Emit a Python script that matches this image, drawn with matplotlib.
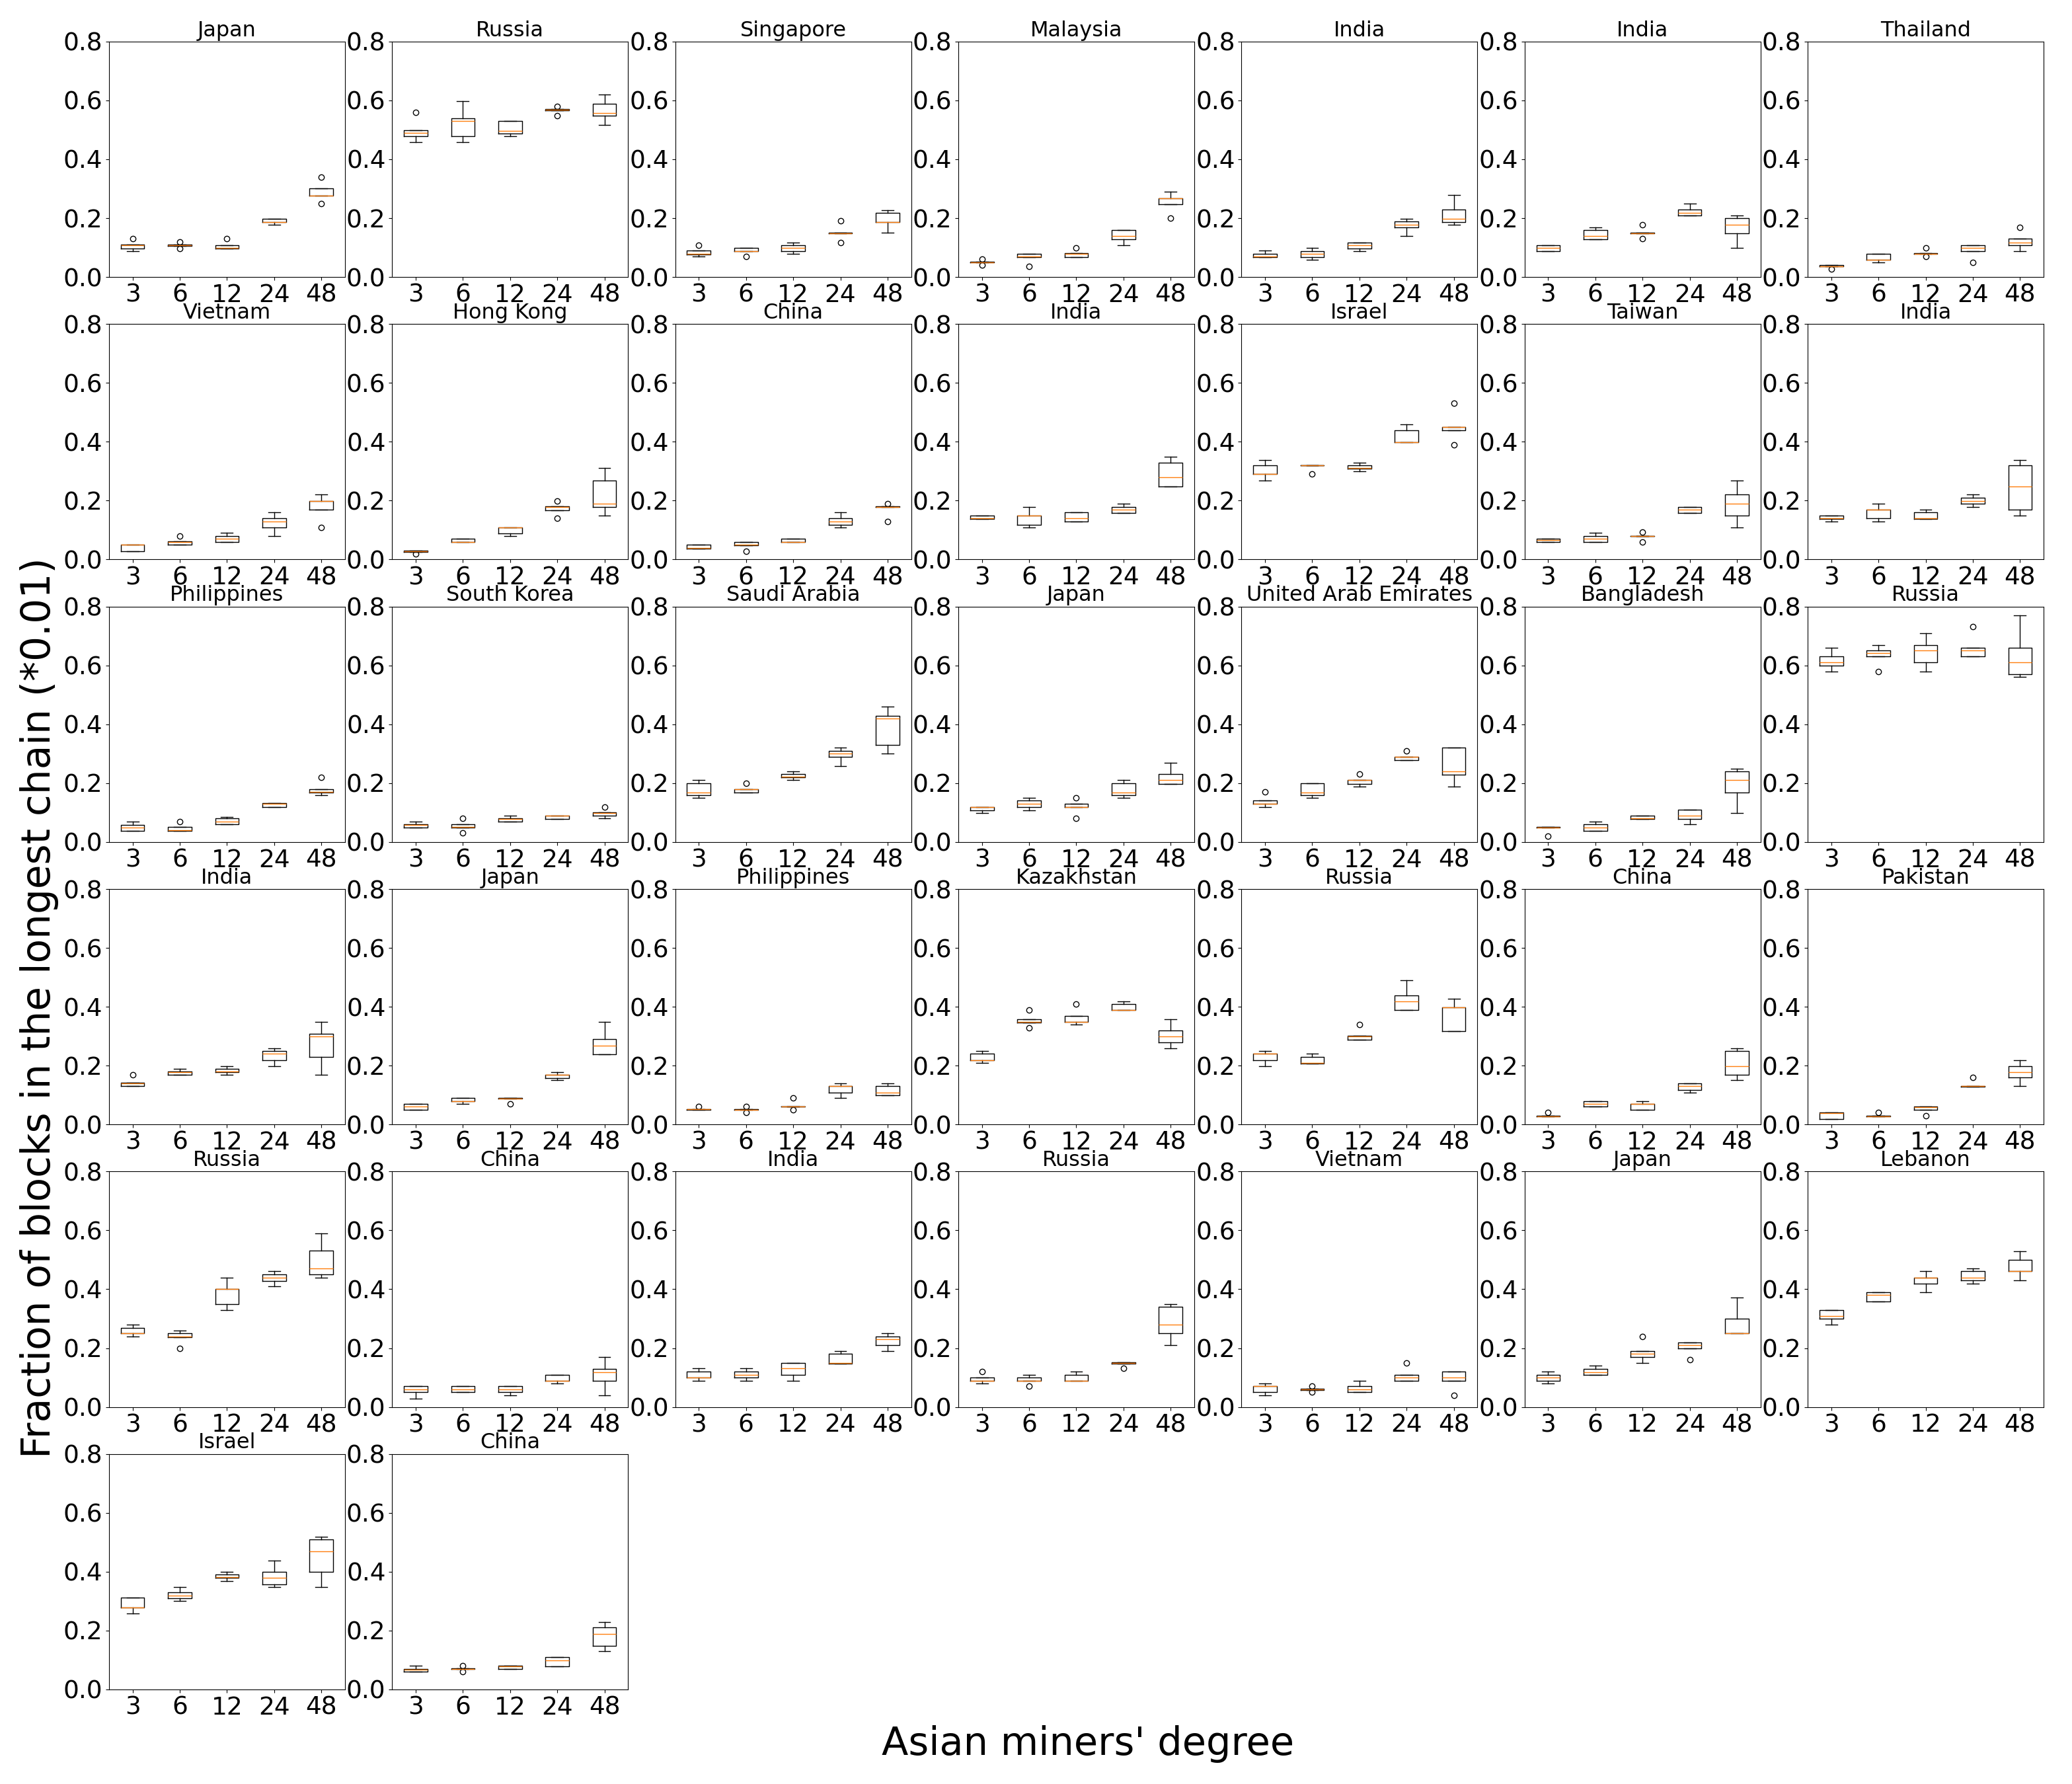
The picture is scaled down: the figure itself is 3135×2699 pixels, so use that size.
import numpy as np
import matplotlib
matplotlib.use("Agg")
import matplotlib.pyplot as plt

# degrees on the x axis
degrees = ['3', '6', '12', '24', '48']

titles = ['Japan', 'Russia', 'Singapore', 'Malaysia', 'India', 'India', 'Thailand',
          'Vietnam', 'Hong Kong', 'China', 'India', 'Israel', 'Taiwan', 'India',
          'Philippines', 'South Korea', 'Saudi Arabia', 'Japan', 'United Arab Emirates', 'Bangladesh', 'Russia',
          'India', 'Japan', 'Philippines', 'Kazakhstan', 'Russia', 'China', 'Pakistan',
          'Russia', 'China', 'India', 'Russia', 'Vietnam', 'Japan', 'Lebanon',
          'Israel', 'China']

# box statistics, one row per panel, one value per degree
whis_lo = [
    [0.088, 0.106, 0.097, 0.178, 0.277], [0.459, 0.459, 0.478, 0.566, 0.517],
    [0.069, 0.087, 0.079, 0.149, 0.150], [0.049, 0.067, 0.068, 0.109, 0.247],
    [0.068, 0.058, 0.088, 0.139, 0.178], [0.088, 0.128, 0.149, 0.208, 0.098],
    [0.036, 0.049, 0.078, 0.088, 0.088],
    [0.028, 0.050, 0.060, 0.080, 0.169], [0.026, 0.060, 0.080, 0.167, 0.150],
    [0.037, 0.049, 0.060, 0.109, 0.178], [0.139, 0.109, 0.129, 0.159, 0.249],
    [0.268, 0.319, 0.300, 0.399, 0.438], [0.060, 0.060, 0.079, 0.159, 0.109],
    [0.130, 0.130, 0.139, 0.178, 0.150],
    [0.037, 0.037, 0.060, 0.118, 0.159], [0.050, 0.049, 0.069, 0.079, 0.080],
    [0.150, 0.169, 0.210, 0.259, 0.300], [0.099, 0.108, 0.118, 0.150, 0.198],
    [0.119, 0.150, 0.189, 0.277, 0.189], [0.050, 0.037, 0.078, 0.060, 0.099],
    [0.580, 0.630, 0.580, 0.630, 0.560],
    [0.130, 0.169, 0.169, 0.199, 0.169], [0.049, 0.070, 0.089, 0.150, 0.238],
    [0.050, 0.050, 0.060, 0.090, 0.100], [0.210, 0.347, 0.339, 0.388, 0.259],
    [0.199, 0.208, 0.289, 0.388, 0.318], [0.027, 0.060, 0.049, 0.109, 0.150],
    [0.019, 0.028, 0.049, 0.129, 0.130],
    [0.240, 0.238, 0.330, 0.410, 0.440], [0.028, 0.050, 0.039, 0.080, 0.039],
    [0.090, 0.090, 0.090, 0.148, 0.190], [0.080, 0.088, 0.088, 0.148, 0.210],
    [0.039, 0.058, 0.050, 0.088, 0.088], [0.080, 0.109, 0.150, 0.199, 0.250],
    [0.279, 0.358, 0.390, 0.420, 0.430],
    [0.259, 0.300, 0.369, 0.349, 0.349], [0.060, 0.069, 0.070, 0.079, 0.130],
]
q1 = [
    [0.097, 0.106, 0.097, 0.186, 0.277], [0.478, 0.478, 0.488, 0.566, 0.548],
    [0.077, 0.087, 0.088, 0.149, 0.187], [0.049, 0.067, 0.068, 0.128, 0.247],
    [0.068, 0.068, 0.097, 0.169, 0.187], [0.088, 0.128, 0.149, 0.208, 0.148],
    [0.036, 0.058, 0.078, 0.088, 0.109],
    [0.028, 0.050, 0.060, 0.109, 0.169], [0.026, 0.060, 0.088, 0.167, 0.178],
    [0.037, 0.049, 0.060, 0.118, 0.178], [0.139, 0.118, 0.129, 0.159, 0.249],
    [0.290, 0.319, 0.309, 0.399, 0.438], [0.060, 0.060, 0.079, 0.159, 0.150],
    [0.139, 0.140, 0.139, 0.189, 0.169],
    [0.037, 0.037, 0.060, 0.118, 0.168], [0.050, 0.049, 0.069, 0.079, 0.089],
    [0.159, 0.169, 0.219, 0.289, 0.330], [0.108, 0.118, 0.118, 0.159, 0.198],
    [0.129, 0.159, 0.198, 0.277, 0.228], [0.050, 0.037, 0.078, 0.079, 0.169],
    [0.599, 0.630, 0.611, 0.630, 0.570],
    [0.130, 0.169, 0.178, 0.219, 0.229], [0.049, 0.079, 0.089, 0.158, 0.238],
    [0.050, 0.050, 0.060, 0.109, 0.100], [0.219, 0.347, 0.348, 0.388, 0.278],
    [0.219, 0.208, 0.289, 0.388, 0.318], [0.027, 0.060, 0.049, 0.118, 0.169],
    [0.019, 0.028, 0.049, 0.129, 0.160],
    [0.250, 0.238, 0.349, 0.429, 0.450], [0.050, 0.050, 0.050, 0.088, 0.088],
    [0.099, 0.099, 0.109, 0.148, 0.210], [0.088, 0.088, 0.088, 0.148, 0.250],
    [0.050, 0.058, 0.050, 0.088, 0.088], [0.088, 0.109, 0.169, 0.199, 0.250],
    [0.300, 0.358, 0.418, 0.430, 0.461],
    [0.278, 0.309, 0.379, 0.358, 0.400], [0.060, 0.069, 0.070, 0.079, 0.148],
]
med = [
    [0.108, 0.109, 0.099, 0.187, 0.277], [0.489, 0.530, 0.497, 0.568, 0.558],
    [0.079, 0.088, 0.098, 0.149, 0.187], [0.050, 0.070, 0.079, 0.140, 0.268],
    [0.070, 0.079, 0.109, 0.178, 0.197], [0.098, 0.139, 0.149, 0.219, 0.178],
    [0.037, 0.058, 0.078, 0.098, 0.118],
    [0.051, 0.060, 0.070, 0.130, 0.199], [0.028, 0.060, 0.109, 0.178, 0.189],
    [0.039, 0.051, 0.060, 0.130, 0.178], [0.140, 0.150, 0.140, 0.169, 0.279],
    [0.290, 0.319, 0.310, 0.399, 0.450], [0.067, 0.070, 0.079, 0.169, 0.189],
    [0.140, 0.169, 0.140, 0.199, 0.249],
    [0.050, 0.039, 0.070, 0.129, 0.170], [0.059, 0.052, 0.079, 0.089, 0.099],
    [0.169, 0.180, 0.221, 0.300, 0.419], [0.118, 0.129, 0.118, 0.169, 0.210],
    [0.130, 0.169, 0.210, 0.290, 0.239], [0.050, 0.050, 0.080, 0.089, 0.210],
    [0.611, 0.641, 0.650, 0.650, 0.611],
    [0.139, 0.178, 0.180, 0.240, 0.300], [0.060, 0.079, 0.089, 0.169, 0.268],
    [0.051, 0.050, 0.060, 0.130, 0.109], [0.219, 0.348, 0.348, 0.390, 0.300],
    [0.240, 0.210, 0.300, 0.418, 0.399], [0.028, 0.070, 0.070, 0.130, 0.199],
    [0.038, 0.028, 0.058, 0.130, 0.178],
    [0.250, 0.240, 0.400, 0.440, 0.470], [0.060, 0.060, 0.060, 0.090, 0.118],
    [0.099, 0.109, 0.131, 0.150, 0.230], [0.090, 0.090, 0.090, 0.150, 0.279],
    [0.071, 0.060, 0.060, 0.099, 0.099], [0.099, 0.118, 0.180, 0.210, 0.250],
    [0.310, 0.380, 0.439, 0.439, 0.461],
    [0.278, 0.319, 0.381, 0.380, 0.470], [0.068, 0.069, 0.079, 0.099, 0.188],
]
q3 = [
    [0.110, 0.111, 0.109, 0.198, 0.300], [0.499, 0.540, 0.530, 0.570, 0.588],
    [0.089, 0.099, 0.108, 0.151, 0.219], [0.051, 0.079, 0.081, 0.160, 0.268],
    [0.079, 0.088, 0.118, 0.188, 0.229], [0.109, 0.159, 0.151, 0.229, 0.199],
    [0.040, 0.079, 0.080, 0.109, 0.130],
    [0.051, 0.061, 0.080, 0.140, 0.199], [0.030, 0.070, 0.109, 0.180, 0.268],
    [0.051, 0.060, 0.070, 0.140, 0.180], [0.150, 0.150, 0.160, 0.178, 0.330],
    [0.319, 0.321, 0.320, 0.440, 0.450], [0.070, 0.080, 0.080, 0.178, 0.220],
    [0.150, 0.170, 0.160, 0.210, 0.320],
    [0.059, 0.052, 0.080, 0.131, 0.180], [0.061, 0.060, 0.080, 0.090, 0.100],
    [0.200, 0.180, 0.230, 0.310, 0.429], [0.119, 0.140, 0.129, 0.200, 0.230],
    [0.140, 0.200, 0.211, 0.290, 0.320], [0.051, 0.060, 0.089, 0.110, 0.239],
    [0.631, 0.650, 0.669, 0.660, 0.660],
    [0.141, 0.180, 0.188, 0.249, 0.309], [0.070, 0.090, 0.090, 0.169, 0.290],
    [0.051, 0.051, 0.061, 0.130, 0.130], [0.240, 0.358, 0.369, 0.409, 0.319],
    [0.240, 0.229, 0.302, 0.438, 0.399], [0.030, 0.079, 0.070, 0.139, 0.249],
    [0.040, 0.030, 0.060, 0.131, 0.199],
    [0.268, 0.250, 0.400, 0.450, 0.531], [0.070, 0.070, 0.070, 0.110, 0.130],
    [0.120, 0.120, 0.150, 0.180, 0.240], [0.099, 0.099, 0.109, 0.151, 0.340],
    [0.071, 0.062, 0.070, 0.109, 0.120], [0.109, 0.130, 0.190, 0.220, 0.300],
    [0.330, 0.390, 0.440, 0.461, 0.500],
    [0.311, 0.330, 0.390, 0.400, 0.509], [0.070, 0.071, 0.080, 0.109, 0.210],
]
whis_hi = [
    [0.110, 0.111, 0.109, 0.198, 0.300], [0.499, 0.597, 0.530, 0.570, 0.619],
    [0.089, 0.099, 0.118, 0.151, 0.228], [0.051, 0.079, 0.081, 0.160, 0.290],
    [0.090, 0.098, 0.118, 0.198, 0.278], [0.109, 0.169, 0.151, 0.249, 0.210],
    [0.040, 0.079, 0.080, 0.109, 0.130],
    [0.051, 0.061, 0.090, 0.160, 0.220], [0.030, 0.070, 0.109, 0.180, 0.310],
    [0.051, 0.060, 0.070, 0.160, 0.180], [0.150, 0.178, 0.160, 0.189, 0.349],
    [0.339, 0.321, 0.330, 0.460, 0.450], [0.070, 0.090, 0.080, 0.178, 0.268],
    [0.150, 0.189, 0.170, 0.220, 0.339],
    [0.070, 0.052, 0.084, 0.131, 0.180], [0.070, 0.060, 0.089, 0.090, 0.100],
    [0.211, 0.180, 0.240, 0.320, 0.460], [0.119, 0.150, 0.129, 0.210, 0.269],
    [0.140, 0.200, 0.211, 0.290, 0.320], [0.051, 0.070, 0.089, 0.110, 0.249],
    [0.660, 0.669, 0.710, 0.660, 0.771],
    [0.141, 0.188, 0.199, 0.259, 0.348], [0.070, 0.090, 0.090, 0.178, 0.348],
    [0.051, 0.051, 0.061, 0.139, 0.139], [0.249, 0.358, 0.369, 0.418, 0.358],
    [0.249, 0.240, 0.302, 0.489, 0.428], [0.030, 0.079, 0.079, 0.139, 0.259],
    [0.040, 0.030, 0.060, 0.131, 0.219],
    [0.279, 0.259, 0.440, 0.461, 0.590], [0.070, 0.070, 0.070, 0.110, 0.170],
    [0.131, 0.131, 0.150, 0.190, 0.250], [0.099, 0.109, 0.120, 0.151, 0.350],
    [0.080, 0.062, 0.090, 0.109, 0.120], [0.120, 0.140, 0.190, 0.220, 0.371],
    [0.330, 0.390, 0.461, 0.470, 0.530],
    [0.311, 0.349, 0.400, 0.439, 0.518], [0.080, 0.071, 0.080, 0.109, 0.230],
]
# outliers: (panel, degree index) -> values
fliers = {
    (0, 0): [0.13], (0, 1): [0.12, 0.096], (0, 2): [0.13], (0, 4): [0.339, 0.249],
    (1, 0): [0.559], (1, 3): [0.579, 0.549],
    (2, 0): [0.109], (2, 1): [0.069], (2, 3): [0.19, 0.118],
    (3, 0): [0.06, 0.04], (3, 1): [0.037], (3, 2): [0.10], (3, 4): [0.199],
    (5, 2): [0.178, 0.13],
    (6, 0): [0.028], (6, 2): [0.10, 0.07], (6, 3): [0.049], (6, 4): [0.169],
    (7, 1): [0.08], (7, 4): [0.109],
    (8, 0): [0.019], (8, 3): [0.199, 0.14],
    (9, 1): [0.028], (9, 4): [0.189, 0.13],
    (11, 1): [0.29], (11, 4): [0.531, 0.39],
    (12, 2): [0.094, 0.06],
    (14, 1): [0.07], (14, 4): [0.22],
    (15, 1): [0.08, 0.03], (15, 4): [0.119],
    (16, 1): [0.2],
    (17, 2): [0.151, 0.08],
    (18, 0): [0.17], (18, 2): [0.23], (18, 3): [0.31],
    (19, 0): [0.019],
    (20, 1): [0.58], (20, 3): [0.731],
    (21, 0): [0.169],
    (22, 2): [0.07],
    (23, 0): [0.06], (23, 1): [0.06, 0.04], (23, 2): [0.09, 0.049],
    (24, 1): [0.388, 0.328], (24, 2): [0.409],
    (25, 2): [0.339],
    (26, 0): [0.04],
    (27, 1): [0.04], (27, 2): [0.03], (27, 3): [0.16],
    (28, 1): [0.199],
    (31, 0): [0.12], (31, 1): [0.071], (31, 3): [0.131],
    (32, 1): [0.07, 0.05], (32, 3): [0.15], (32, 4): [0.039],
    (33, 2): [0.24], (33, 3): [0.16],
    (36, 1): [0.08, 0.06],
}

fig, axes = plt.subplots(6, 7, figsize=(31.35, 26.99), dpi=100)
fig.subplots_adjust(left=0.0526, right=0.9863, bottom=0.053, top=0.9767,
                    wspace=0.2, hspace=0.2)
axes = axes.ravel()

for i, ax in enumerate(axes):
    if i >= len(titles):
        ax.remove()
        continue
    stats = []
    for j in range(len(degrees)):
        stats.append(dict(whislo=whis_lo[i][j], q1=q1[i][j], med=med[i][j],
                          q3=q3[i][j], whishi=whis_hi[i][j],
                          fliers=fliers.get((i, j), [])))
    ax.bxp(stats, positions=range(1, 6))
    ax.set_xticks(range(1, 6))
    ax.set_xticklabels(degrees)
    ax.set_ylim(0, 0.8)
    ax.set_yticks([0.0, 0.2, 0.4, 0.6, 0.8])
    ax.tick_params(labelsize=27)
    ax.set_title(titles[i], fontsize=23)

fig.text(0.525, 0.0225, "Asian miners' degree", fontsize=42.5, ha='center', va='center')
fig.text(0.019, 0.435, "Fraction of blocks in the longest chain (*0.01)", fontsize=43,
         rotation='vertical', ha='center', va='center')

fig.savefig('out.png', dpi=100)
